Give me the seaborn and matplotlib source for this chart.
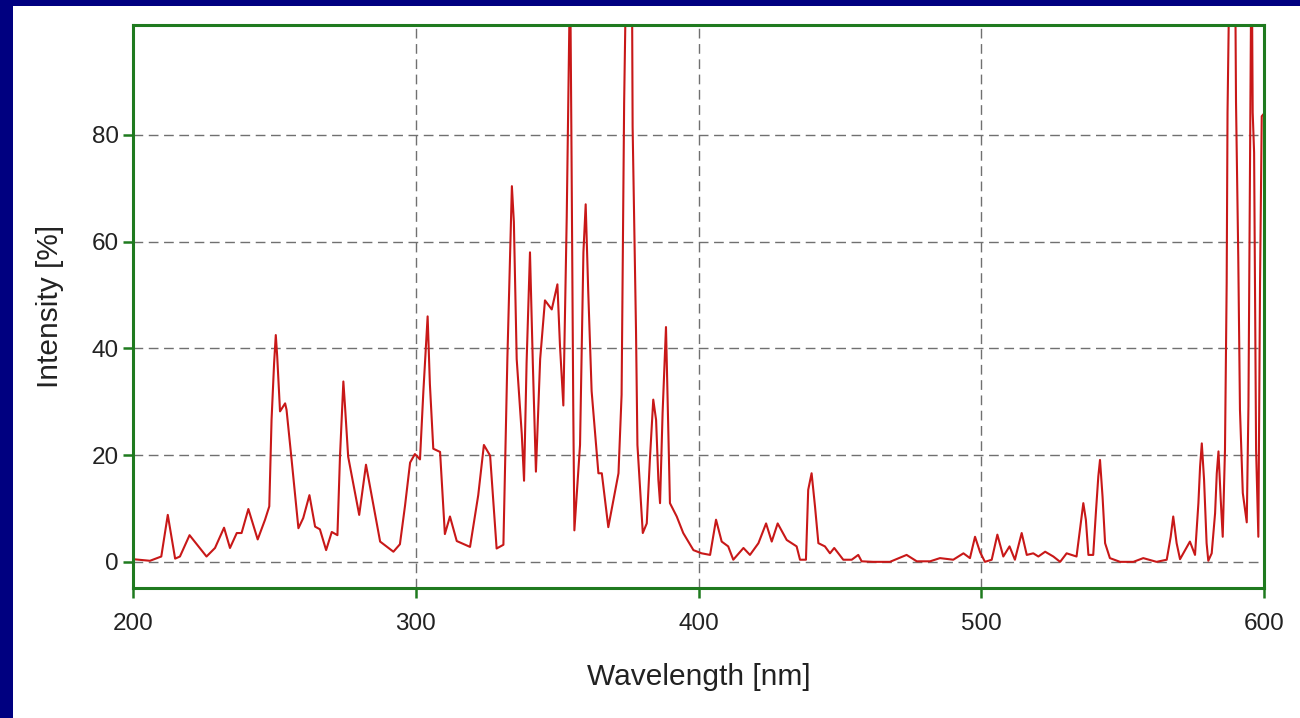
import numpy as np
import pandas as pd
import matplotlib
matplotlib.use("Agg")
import matplotlib.pyplot as plt
from matplotlib.patches import Rectangle
import seaborn as sns

# ---- data ----
wavelength = [
    200, 206, 210, 212.3, 214.9, 216.6, 220, 226, 229, 232.2, 234.3, 236.7, 238.4,
    240.8, 244.1, 246.7, 248.2, 249, 249.9, 250.5, 251, 252, 253.8, 254.3, 256.1,
    258.5, 260.2, 262.4, 264.4, 266.1, 268.3, 270.3, 272.3, 273.2, 274.4, 275,
    276.1, 280, 282.4, 287.4, 292.1, 294.4, 296.2, 298, 299.7, 301.5, 302.7,
    304.2, 305, 306.2, 308.6, 310.3, 312.1, 314.5, 319.2, 322.1, 324.1, 326.3,
    328.6, 331, 332.4, 334, 334.7, 335.7, 337.5, 338.3, 339.2, 340.4, 341.4,
    342.5, 344, 345.7, 348.1, 350.1, 351, 352.2, 353.4, 354, 354.6, 355.1,
    355.7, 356.1, 358.1, 359.3, 360.1, 361, 362.2, 364.6, 365.8, 368.1, 371.7,
    372.8, 373.7, 374.6, 376.4, 376.7, 377.9, 378.4, 380.3, 381.7, 382.8, 384,
    385, 385.8, 386.4, 387.3, 388.5, 389.9, 392.3, 394.6, 398.2, 401.1, 404.1,
    406.2, 408.2, 410.5, 412.3, 415.9, 418.2, 421.2, 423.9, 425.9, 428, 431.2,
    434.7, 435.9, 438, 438.8, 440, 441.2, 442.4, 444.7, 446.5, 448, 451.2,
    454.2, 456.5, 457.7, 461.8, 467.7, 473.6, 477.2, 481.9, 485.4, 490.1,
    493.7, 496, 497.8, 499.6, 501.3, 503.7, 505.7, 507.8, 510, 511.9, 514.3,
    516.1, 518.4, 520.2, 522.6, 525.5, 527.9, 530.2, 533.7, 534.9, 536.1, 537,
    537.9, 539.6, 540.6, 541.4, 542, 542.9, 543.8, 545.5, 549.1, 553.8, 557.3,
    562, 565.6, 567, 567.9, 569.1, 570.3, 572.1, 573.8, 575.6, 576.8, 577.4,
    578, 578.8, 579.7, 580.3, 581.5, 582.7, 583.3, 583.9, 584.7, 585.4, 586.2,
    586.8, 587.1, 588, 589.7, 590.1, 590.9, 591.5, 592.5, 593.9, 594.5, 595.1,
    595.6, 596, 596.5, 597.2, 598, 598.6, 599.2, 600,
]
intensity = [
    0.5, 0.2, 1, 8.8, 0.6, 1, 5, 1, 2.6, 6.4, 2.6, 5.4, 5.4,
    9.9, 4.2, 7.9, 10.4, 26.6, 37.2, 42.5, 38.5, 28.2, 29.7, 28.5, 19.1,
    6.3, 8.2, 12.5, 6.6, 6.1, 2.2, 5.6, 5.0, 19.7, 33.8, 29,
    19.7, 8.8, 18.2, 3.8, 1.9, 3.3, 10.5, 18.6, 20.2, 19.2, 32,
    46, 33.3, 21.2, 20.6, 5.2, 8.5, 3.9, 2.8, 12.5, 21.9, 19.9,
    2.5, 3.2, 38, 70.4, 63.7, 38, 23.9, 15.2, 37.3, 58, 37.3,
    16.9, 38, 49, 47.3, 52, 40.6, 29.3, 64.7, 88.2, 112, 76,
    29.3, 5.9, 21.9, 58, 67, 50.7, 32, 16.6, 16.6, 6.5, 16.6,
    31.3, 86, 118, 118, 81.5, 43.3, 21.9, 5.4, 7.2, 19.1, 30.4,
    26.6, 15.4, 11, 27.9, 44, 11, 8.5, 5.4, 2.2, 1.6, 1.3,
    7.9, 3.8, 2.9, 0.4, 2.6, 1.3, 3.5, 7.2, 3.8, 7.2, 4.1,
    2.9, 0.4, 0.4, 13.5, 16.6, 10.4, 3.5, 2.9, 1.6, 2.6, 0.4,
    0.4, 1.3, 0.1, 0, 0, 1.3, 0.1, 0.1, 0.7, 0.4,
    1.6, 0.7, 4.7, 1.8, 0, 0.4, 5.1, 1, 2.9, 0.4, 5.4,
    1.3, 1.6, 1, 1.9, 1, 0, 1.6, 1, 6, 11, 7.9,
    1.3, 1.3, 9.7, 16, 19.1, 12.2, 3.5, 0.7, 0, 0, 0.7,
    0, 0.4, 4.7, 8.5, 3.5, 0.5, 2.2, 3.8, 1.3, 11, 17.9,
    22.2, 15.4, 3.5, 0.2, 1.6, 9.1, 16.6, 20.7, 11.6, 4.7, 21,
    52.3, 84.2, 120, 120, 86.2, 57, 28.5, 12.9, 7.4, 29.2, 76.7,
    120, 84.2, 76.7, 21, 4.7, 52.3, 83.5, 84,
]
x_ticks = [200, 300, 400, 500, 600]
y_ticks = [0, 20, 40, 60, 80]

df = pd.DataFrame({"Wavelength": wavelength, "Intensity": intensity})

sns.set_theme(style="white")
plt.rcParams["font.family"] = ["Liberation Sans", "DejaVu Sans"]

W, H = 1300, 718
fig = plt.figure(figsize=(W / 100, H / 100), dpi=100, facecolor="white")
ax = fig.add_axes([133 / W, 1 - 588 / H, (1264 - 133) / W, (588 - 25) / H])

navy = "#000080"
fig.patches.append(Rectangle((0, 0), 13 / W, 1, transform=fig.transFigure,
                             facecolor=navy, edgecolor="none", zorder=-5))
fig.patches.append(Rectangle((0, 1 - 6 / H), 1, 6 / H, transform=fig.transFigure,
                             facecolor=navy, edgecolor="none", zorder=-5))

sns.lineplot(data=df, x="Wavelength", y="Intensity", ax=ax, color="#c81818",
             linewidth=1.5, estimator=None, sort=False)

ax.set_xlim(200, 600)
ax.set_ylim(-4.9, 100.6)
ax.set_xticks(x_ticks)
ax.set_yticks(y_ticks)
ax.set_xticklabels([str(v) for v in x_ticks])
ax.set_yticklabels([str(v) for v in y_ticks])

ax.set_axisbelow(True)
ax.grid(True, color="#707070", linestyle=(0, (7, 4)), linewidth=1.0)

green = "#1f7a1f"
for s in ax.spines.values():
    s.set_visible(True)
    s.set_color(green)
    s.set_linewidth(2.2)

ax.tick_params(axis="both", direction="out", length=7, width=1.8, color=green,
               labelsize=17.5, labelcolor="#222222")
ax.tick_params(axis="x", pad=11)
ax.tick_params(axis="y", pad=3)
ax.xaxis.set_ticks_position("bottom")
ax.yaxis.set_ticks_position("left")

ax.set_xlabel("Wavelength [nm]", fontsize=21.5, color="#222222")
ax.set_ylabel("Intensity [%]", fontsize=21.5, color="#222222")
ax.xaxis.set_label_coords(0.5, -0.133)
ax.yaxis.set_label_coords(-0.061, 0.5)

fig.savefig("out.png", dpi=100, facecolor="white")
